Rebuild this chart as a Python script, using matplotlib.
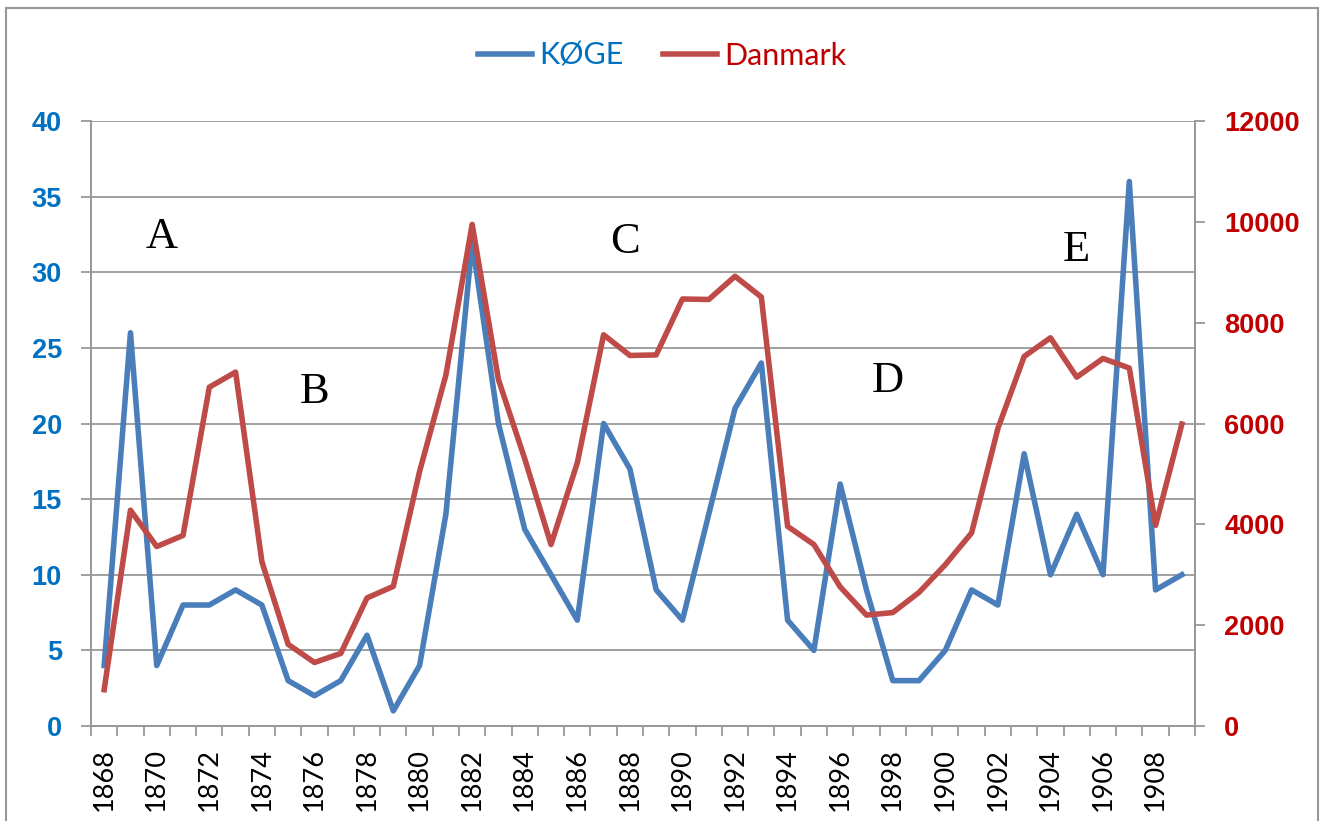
import numpy as np
import matplotlib.pyplot as plt
from matplotlib.patches import Rectangle

# Data
years = list(range(1868, 1910))
koege = [4, 26, 4, 8, 8, 9, 8, 3, 2, 3, 6, 1, 4, 14, 32, 20, 13, 10, 7, 20, 17,
         9, 7, 14, 21, 24, 7, 5, 16, 9, 3, 3, 5, 9, 8, 18, 10, 14, 10, 36, 9, 10]
danmark = [720, 4280, 3560, 3780, 6720, 7020, 3260, 1620, 1260, 1440, 2540, 2770,
           5050, 6960, 9950, 6870, 5300, 3600, 5220, 7760, 7350, 7360, 8470, 8460,
           8920, 8510, 3960, 3600, 2760, 2200, 2250, 2650, 3200, 3830, 5900, 7330,
           7700, 6920, 7290, 7100, 3980, 5990]
# period labels: (letter, category index, left-axis value)
periods = [("A", 2.2, 32.3), ("B", 8.0, 22.1), ("C", 19.8, 32.0),
           ("D", 29.8, 22.8), ("E", 37.0, 31.5)]

blue = "#4A7EBB"
red = "#BE4B48"
blue_txt = "#0070C0"
red_txt = "#C00000"
grey = "#989898"

fig = plt.figure(figsize=(13.25, 8.21), dpi=100)
ax = fig.add_axes([0.0687, 0.1157, 0.9019 - 0.0687, 0.8526 - 0.1157])
ax2 = ax.twinx()

# outer chart frame
fig.patches.append(Rectangle((0.0045, -0.1), 0.9902, 1.09, transform=fig.transFigure,
                             fill=False, edgecolor=grey, linewidth=1.5))

x = np.arange(len(years))
l1, = ax.plot(x, koege, color=blue, linewidth=4.0, label="KØGE", zorder=3)
l2, = ax2.plot(x, danmark, color=red, linewidth=4.0, label="Danmark", zorder=3)

ax.set_xlim(-0.5, len(years) - 0.5)
ax.set_ylim(0, 40)
ax2.set_ylim(0, 12000)
ax.set_yticks(range(0, 41, 5))
ax2.set_yticks(range(0, 12001, 2000))
ax.grid(axis="y", color=grey, linewidth=1.3)
ax.set_axisbelow(True)

ax.set_xticks(x[::2])
ax.set_xticklabels([str(y) for y in years[::2]], rotation=90, family="Lato",
                   fontsize=19.5)
ax.set_xticks(np.arange(-0.5, len(years), 1), minor=True)
ax.tick_params(axis="x", which="major", length=0, pad=16)
ax.tick_params(axis="x", which="minor", length=7, width=1.3, color=grey)

ax.tick_params(axis="y", length=7, width=1.3, color=grey, pad=14,
               labelcolor=blue_txt)
ax2.tick_params(axis="y", length=7, width=1.3, color=grey, pad=14,
                labelcolor=red_txt)
for lab in ax.get_yticklabels() + ax2.get_yticklabels():
    lab.set_fontfamily("Liberation Sans")
    lab.set_fontweight("bold")
    lab.set_fontsize(19.5)

for a in (ax, ax2):
    for s in a.spines.values():
        s.set_color(grey)
        s.set_linewidth(1.3)
    a.spines["top"].set_visible(False)

for letter, xi, yv in periods:
    ax.text(xi, yv, letter, family="Liberation Serif", fontsize=32,
            ha="center", va="center", zorder=4)

leg = fig.legend(handles=[l1, l2], loc="center", bbox_to_anchor=(0.5, 0.932),
                 ncol=2, frameon=False, handlelength=1.75, handletextpad=0.25,
                 columnspacing=1.3, prop={"family": "Lato", "size": 22})
for t, c in zip(leg.get_texts(), [blue_txt, red_txt]):
    t.set_color(c)

fig.savefig("out.png", dpi=100)
